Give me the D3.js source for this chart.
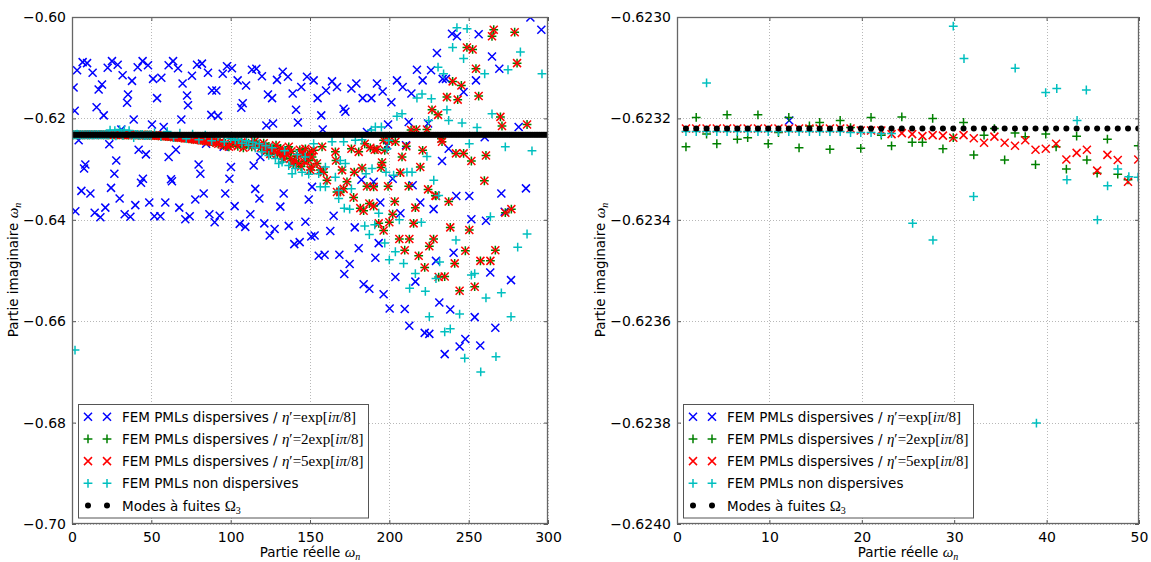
<!DOCTYPE html>
<html><head><meta charset="utf-8">
<script src="https://cdn.jsdelivr.net/npm/d3@7"></script>
<style>
body{margin:0;background:#fff}
svg text{font-family:"DejaVu Sans",sans-serif;fill:#000}
</style>
</head><body>
<svg id="c" width="1151" height="562"></svg>
<script>
// ---------------- DATA ----------------
const xTicksLeft = [0, 50, 100, 150, 200, 250, 300];
const yTicksLeft = [-0.70, -0.68, -0.66, -0.64, -0.62, -0.60];
const xTicksRight = [0, 10, 20, 30, 40, 50];
const yTicksRight = [-0.6240, -0.6238, -0.6236, -0.6234, -0.6232, -0.6230];

// Leaky modes Omega_3 (real parts), imaginary part constant
const leakyRe = [
0.97,2.08,3.2,4.31,5.42,6.53,7.65,8.76,9.87,10.98,
12.1,13.21,14.33,15.44,16.55,17.66,18.78,19.89,21.0,22.11,
23.22,24.33,25.45,26.56,27.67,28.78,29.9,31.01,32.12,33.23,
34.35,35.46,36.58,37.69,38.8,39.91,41.03,42.14,43.25,44.36,
45.47,46.58,47.7,48.81,49.92,51.03,52.15,53.26,54.37,55.48,
56.6,57.71,58.83,59.94,61.05,62.16,63.28,64.39,65.5,66.61,
67.73,68.84,69.96,71.07,72.18,73.29,74.41,75.52,76.63,77.74,
78.85,79.96,81.08,82.19,83.3,84.41,85.53,86.64,87.75,88.86,
89.98,91.09,92.21,93.32,94.43,95.54,96.66,97.77,98.88,99.99,
101.1,102.21,103.33,104.44,105.55,106.66,107.78,108.89,110.0,111.11,
112.23,113.34,114.46,115.57,116.68,117.79,118.91,120.02,121.13,122.24,
123.36,124.47,125.59,126.7,127.81,128.92,130.04,131.15,132.26,133.37,
134.48,135.59,136.71,137.82,138.93,140.04,141.16,142.27,143.38,144.49,
145.61,146.72,147.84,148.95,150.06,151.17,152.29,153.4,154.51,155.62,
156.73,157.84,158.96,160.07,161.18,162.29,163.41,164.52,165.63,166.74,
167.86,168.97,170.09,171.2,172.31,173.42,174.54,175.65,176.76,177.87,
178.99,180.1,181.22,182.33,183.44,184.55,185.67,186.78,187.89,189.0,
190.11,191.22,192.34,193.45,194.56,195.67,196.79,197.9,199.01,200.12,
201.24,202.35,203.47,204.58,205.69,206.8,207.92,209.03,210.14,211.25,
212.36,213.47,214.59,215.7,216.81,217.92,219.04,220.15,221.26,222.37,
223.49,224.6,225.72,226.83,227.94,229.05,230.17,231.28,232.39,233.5,
234.62,235.73,236.85,237.96,239.07,240.18,241.3,242.41,243.52,244.63,
245.74,246.85,247.97,249.08,250.19,251.3,252.42,253.53,254.64,255.75,
256.87,257.98,259.1,260.21,261.32,262.43,263.55,264.66,265.77,266.88,
267.99,269.1,270.22,271.33,272.44,273.55,274.67,275.78,276.89,278.0,
279.12,280.23,281.35,282.46,283.57,284.68,285.8,286.91,288.02,289.13,
290.25,291.36,292.48,293.59,294.7,295.81,296.93,298.04,299.15];
const leakyIm = -0.62322;

// eta' = 2 exp(i pi/8): imaginary parts for the first 45 leaky real parts
const etaTwoNearIm = [
-0.623256,-0.623198,-0.623231,-0.623250,-0.623193,-0.623241,-0.623238,-0.623193,-0.623250,-0.623228,
-0.623198,-0.623258,-0.623215,-0.623208,-0.623261,-0.623204,-0.623218,-0.623259,-0.623198,-0.623233,
-0.623254,-0.623197,-0.623247,-0.623247,-0.623200,-0.623260,-0.623238,-0.623208,-0.623272,-0.623233,
-0.623220,-0.623282,-0.623229,-0.623236,-0.623291,-0.623231,-0.623256,-0.623300,-0.623235,-0.623282,
-0.623308,-0.623241,-0.623310,-0.623321,-0.623254];

// eta' = 5 exp(i pi/8): imaginary parts for the first 45 leaky real parts
const etaFiveNearIm = [
-0.62322,-0.62322,-0.62322,-0.62322,-0.62322,-0.62322,-0.62322,-0.62322,-0.62322,-0.62322,
-0.62322,-0.62322,-0.62322,-0.62322,-0.62322,-0.62322,-0.62322,-0.623224,-0.623224,-0.623224,
-0.623231,-0.623229,-0.623231,-0.623235,-0.623233,-0.623234,-0.623238,-0.623233,-0.623239,-0.623248,
-0.623236,-0.623248,-0.623254,-0.623243,-0.623262,-0.623260,-0.623250,-0.623281,-0.623268,-0.623262,
-0.623303,-0.623272,-0.623282,-0.623325,-0.623281];

// points where eta'=2 and eta'=5 coincide (x >= 50)
const etaFarPoints = [
[51.03,-0.62333],[52.15,-0.62338],[53.26,-0.62335],[54.37,-0.62342],[55.48,-0.6234],[56.6,-0.62348],[57.71,-0.62345],
[58.83,-0.62353],[59.94,-0.6235],[61.05,-0.62358],[62.16,-0.62362],[63.28,-0.62357],[64.39,-0.62368],[65.5,-0.62372],
[66.61,-0.62366],[67.73,-0.62378],[68.84,-0.62383],[69.96,-0.62377],[71.07,-0.6239],[72.18,-0.62395],[73.29,-0.62388],
[74.41,-0.62402],[75.52,-0.62408],[76.63,-0.624],[77.74,-0.62415],[78.85,-0.6242],[79.96,-0.62412],[81.08,-0.62428],
[82.19,-0.62435],[83.3,-0.62425],[84.41,-0.62443],[85.53,-0.6245],[86.64,-0.6244],[87.75,-0.6246],[88.86,-0.6247],
[89.98,-0.6245],[91.09,-0.6248],[92.21,-0.625],[93.32,-0.6247],[94.43,-0.6251],[95.54,-0.6253],[96.66,-0.6249],
[97.77,-0.6254],[98.88,-0.6256],[99.99,-0.6252],
[111.3,-0.6249],[115.1,-0.6245],[117.6,-0.6253],[120.8,-0.6249],[122.9,-0.6263],[125.0,-0.627],[127.1,-0.626],
[128.6,-0.6253],[130.7,-0.6266],[132.4,-0.6273],[134.5,-0.6263],[136.6,-0.6256],[137.6,-0.6279],[140.3,-0.6284],
[142.9,-0.6289],[145.0,-0.627],[147.1,-0.626],[149.2,-0.6283],[150.8,-0.6296],[104.5,-0.6255],[108.0,-0.6258],
[101.1,-0.6246],[103.3,-0.625],[106.7,-0.6247],[109.9,-0.6252],[113.3,-0.6256],[116.2,-0.625],[119.0,-0.6258],
[121.6,-0.6262],[124.1,-0.6255],[126.3,-0.6266],[129.4,-0.627],[131.5,-0.6259],[133.2,-0.628],[135.4,-0.627],
[138.3,-0.6265],[139.4,-0.629],[141.5,-0.6275],[143.6,-0.6262],[144.4,-0.6295],[146.3,-0.6285],[148.4,-0.6272],
[150.3,-0.6302],[151.1,-0.6265],
[265.8,-0.6025],[264.7,-0.6038],[279.0,-0.603],[248.9,-0.606],[252.5,-0.6064],[254.6,-0.6102],[280.5,-0.6091],
[239.9,-0.6127],[245.4,-0.6135],[236.3,-0.6158],[243.1,-0.6163],[256.3,-0.6156],[226.9,-0.6183],[230.7,-0.6193],
[270.0,-0.6197],[271.0,-0.6215],[286.8,-0.6212],[217.0,-0.6222],[223.7,-0.6222],[233.2,-0.6246],[232.8,-0.624],
[242.0,-0.6269],[246.8,-0.6269],[251.7,-0.6284],[260.9,-0.6273],[221.0,-0.6263],[208.0,-0.6276],[210.7,-0.6255],
[203.8,-0.6246],[200.0,-0.6244],[192.2,-0.6261],[195.4,-0.6287],[194.8,-0.6297],[206.9,-0.6307],[219.5,-0.6296],
[212.2,-0.6334],[224.4,-0.634],[229.0,-0.6352],[199.2,-0.6334],[185.9,-0.6334],[190.1,-0.6335],[177.9,-0.6306],
[182.8,-0.6298],[170.2,-0.6302],[173.3,-0.6325],[171.2,-0.6339],[167.0,-0.6345],[160.7,-0.6322],[158.6,-0.6306],
[156.5,-0.6302],[154.4,-0.6289],[151.3,-0.6276],[166.4,-0.6283],[166.0,-0.6266],[176.1,-0.626],[180.7,-0.6266],
[188.0,-0.6258],[190.8,-0.6262],[197.1,-0.6263],[184.5,-0.625],[157.6,-0.6256],[152.3,-0.6263],[259.9,-0.6323],
[213.7,-0.6223],[196.4,-0.6243],
[169.1,-0.6345],[177.5,-0.6356],[181.7,-0.6377],[183.8,-0.6382],[187.4,-0.6368],[190.1,-0.6373],[193.3,-0.6407],
[196.4,-0.6421],[200.0,-0.6405],[202.1,-0.6389],[203.4,-0.6364],[206.3,-0.6438],[209.7,-0.646],[212.6,-0.6438],
[215.3,-0.6407],[216.4,-0.6376],[218.5,-0.6471],[222.3,-0.6494],[225.2,-0.6452],[227.9,-0.6438],[231.1,-0.6513],
[234.9,-0.6512],[229.4,-0.6353],[237.4,-0.6364],[238.4,-0.6415],[241.2,-0.6486],[244.3,-0.654],[247.9,-0.6461],
[250.4,-0.642],[253.8,-0.6532],[257.4,-0.6481],[263.7,-0.6481],[266.8,-0.646],[273.1,-0.6386],[276.9,-0.6379]];

// eta' = exp(i pi/8)
const etaOnePoints = [
[3.2,-0.6105],[6.7,-0.6089],[9.5,-0.6091],[13.0,-0.611],[1.0,-0.6139],[16.8,-0.6143],[18.9,-0.6133],[15.5,-0.6178],
[20.0,-0.6194],[1.7,-0.6185],[22.5,-0.61],[25.2,-0.6087],[28.8,-0.6094],[31.9,-0.6115],[37.8,-0.6126],[35.3,-0.6153],
[34.7,-0.6169],[38.9,-0.6202],[41.4,-0.6099],[44.5,-0.6087],[47.9,-0.6095],[51.1,-0.6122],[56.3,-0.612],[53.6,-0.616],
[50.4,-0.6212],[57.8,-0.6217],[60.9,-0.6095],[63.7,-0.6087],[66.8,-0.6101],[69.7,-0.6131],[72.5,-0.6155],[73.1,-0.6174],
[68.9,-0.6202],[75.6,-0.6116],[78.8,-0.6094],[81.9,-0.6092],[85.7,-0.611],[88.2,-0.6145],[91.0,-0.6145],[87.8,-0.6193],
[92.0,-0.6195],[95.0,-0.6112],[97.7,-0.6097],[100.8,-0.6101],[104.4,-0.6125],[109.7,-0.6135],[107.6,-0.617],[106.7,-0.6179],
[113.4,-0.6104],[116.2,-0.6102],[119.7,-0.6117],[123.5,-0.6153],[126.1,-0.616],[129.2,-0.6124],[132.8,-0.6108],[136.1,-0.6118],
[139.1,-0.6151],[144.5,-0.6138],[148.1,-0.6118],[141.2,-0.6183],[142.4,-0.6208],[122.5,-0.6214],[126.7,-0.621],[31.1,-0.6222],
[4.2,-0.6243],[23.5,-0.6251],[27.9,-0.6283],[42.0,-0.6262],[46.6,-0.6271],[60.9,-0.6276],[65.5,-0.6262],[79.8,-0.6291],
[80.9,-0.6309],[84.5,-0.625],[95.6,-0.6256],[100.2,-0.6296],[99.2,-0.6319],[114.5,-0.6293],[118.7,-0.6276],[8.4,-0.6291],
[7.6,-0.6299],[26.7,-0.6309],[24.6,-0.6337],[44.7,-0.6319],[43.5,-0.6327],[62.4,-0.632],[63.0,-0.6324],[5.9,-0.6343],
[11.6,-0.6348],[83.0,-0.6348],[96.6,-0.6348],[115.5,-0.6339],[133.4,-0.6348],
[2.1,-0.6383],[14.3,-0.6386],[17.9,-0.6395],[21.0,-0.6376],[30.0,-0.6358],[33.2,-0.6389],[36.8,-0.6394],[39.9,-0.6371],
[48.7,-0.6366],[51.9,-0.6393],[55.7,-0.6393],[58.8,-0.6366],[67.6,-0.6376],[71.4,-0.6399],[74.2,-0.6393],[77.7,-0.636],
[86.6,-0.6389],[89.9,-0.6405],[93.1,-0.6392],[102.5,-0.6373],[105.7,-0.6408],[109.2,-0.6414],[112.4,-0.6389],[118.1,-0.6358],
[121.2,-0.6407],[124.6,-0.6431],[127.7,-0.6418],[131.3,-0.6374],[136.6,-0.6412],[140.1,-0.6448],[143.5,-0.6444],[147.1,-0.6404],
[149.2,-0.636],[150.8,-0.6433],
[152.3,-0.6125],[154.8,-0.616],[160.1,-0.6145],[163.9,-0.6127],[167.0,-0.6138],[176.1,-0.6141],[179.2,-0.6131],[183.2,-0.616],
[188.7,-0.616],[192.2,-0.6131],[195.8,-0.6147],[201.3,-0.6168],[204.8,-0.6125],[208.4,-0.6138],[213.9,-0.6151],[217.4,-0.6104],
[221.0,-0.6125],[226.3,-0.6105],[230.0,-0.6071],[233.6,-0.6122],[235.7,-0.6122],[239.5,-0.6033],[242.6,-0.6038],
[246.8,-0.6148],[254.6,-0.6125],[256.3,-0.6034],[264.7,-0.6078],[269.3,-0.6102],[288.9,-0.6001],[295.8,-0.6025],
[157.1,-0.6194],[171.2,-0.6181],[172.3,-0.6187],[158.0,-0.6222],[185.9,-0.6227],[199.2,-0.6212],[212.2,-0.6207],[224.4,-0.621],
[281.5,-0.6217],[198.5,-0.6253],[210.5,-0.6253],[233.2,-0.6284],[237.4,-0.626],[260.1,-0.6237],[182.4,-0.6321],[190.1,-0.6325],
[202.1,-0.6319],[214.7,-0.6332],[286.1,-0.6338],[151.3,-0.6335],
[152.9,-0.6431],[155.5,-0.6471],[159.2,-0.6469],[162.8,-0.6422],[164.9,-0.6392],[168.5,-0.6469],[171.6,-0.6507],[175.0,-0.6487],
[178.2,-0.6415],[180.7,-0.6456],[183.8,-0.6527],[187.4,-0.6536],[191.2,-0.6475],[193.3,-0.6446],[194.3,-0.6366],[196.4,-0.6547],
[200.2,-0.6575],[203.8,-0.6513],[207.0,-0.6387],[209.7,-0.6576],[212.6,-0.6609],[216.4,-0.6522],[219.5,-0.6366],[222.3,-0.6623],
[225.2,-0.6625],[227.9,-0.6379],[229.4,-0.6481],[231.5,-0.6563],[234.9,-0.6665],[238.4,-0.6577],[240.5,-0.6465],[242.2,-0.6353],
[244.3,-0.665],[247.9,-0.6635],[250.4,-0.6353],[251.7,-0.6399],[253.8,-0.6592],[257.3,-0.6648],[260.9,-0.6402],[263.6,-0.6504],
[266.8,-0.6613],[270.6,-0.6348],[276.7,-0.6519],[272.7,-0.6384],
[12.15,-0.623204]];

// non-dispersive PMLs
const nonDispPoints = [
[0.97,-0.623226],[2.08,-0.623226],[3.2,-0.623226],[4.31,-0.623226],[5.42,-0.623226],[6.53,-0.623226],[7.65,-0.623226],
[8.76,-0.623226],[9.87,-0.623226],[10.98,-0.623226],[12.1,-0.623226],[13.21,-0.623226],[14.33,-0.623226],[15.44,-0.623226],
[16.55,-0.623226],[17.66,-0.623226],[18.78,-0.623228],[19.89,-0.623228],[21.0,-0.623228],[22.11,-0.62323],[23.22,-0.62323],
[3.2,-0.62313],[29.9,-0.623018],[31.06,-0.623082],[36.6,-0.623101],[39.9,-0.623149],[41.1,-0.623141],[44.3,-0.623144],
[43.3,-0.623204],[42.2,-0.623321],[47.7,-0.6233],[48.9,-0.623315],[46.6,-0.623333],[49.9,-0.623316],[32.1,-0.623354],
[25.5,-0.623407],[27.7,-0.62344],[45.5,-0.6234],[38.9,-0.623801],
[24,-0.6223],[27,-0.6224],[30,-0.6222],[33,-0.6223],[36,-0.6224],[1.9,-0.6657],
[52,-0.6228],[56,-0.6236],[60,-0.6226],[64,-0.6238],[68,-0.6229],[72,-0.624],[76,-0.6231],[80,-0.6242],[84,-0.6233],
[88,-0.6244],[92,-0.6236],[96,-0.6246],[100,-0.624],
[102.9,-0.6243],[107.1,-0.6249],[111.3,-0.6253],[115.5,-0.6258],[119.7,-0.6266],[124.0,-0.6273],[128.2,-0.6279],
[132.4,-0.6286],[136.6,-0.6293],[140.8,-0.6299],[145.0,-0.6306],[149.2,-0.631],[130.3,-0.6289],[138.7,-0.6309],
[105.0,-0.6241],[110.0,-0.6244],[114.0,-0.6247],[118.0,-0.625],[122.0,-0.6254],[126.0,-0.6258],[134.0,-0.6264],
[142.0,-0.6271],[147.0,-0.6276],
[242.6,-0.6021],[249.0,-0.6023],[239.9,-0.606],[246.8,-0.6082],[282.6,-0.6069],[274.8,-0.6104],[260.1,-0.6112],[296.2,-0.6112],
[230.7,-0.6099],[234.2,-0.6112],[220.6,-0.6152],[217.4,-0.616],[226.5,-0.6161],[236.3,-0.6183],[204.8,-0.6196],[208.0,-0.6191],
[224.8,-0.6204],[237.4,-0.6204],[245.8,-0.6209],[264.7,-0.6191],[255.3,-0.6218],[195.0,-0.6217],[191.2,-0.6217],[188.7,-0.6223],
[199.6,-0.6243],[250.4,-0.625],[273.1,-0.6256],[289.9,-0.6264],[223.7,-0.6275],[214.3,-0.6306],[211.1,-0.6306],[228.0,-0.6322],
[231.1,-0.6352],[202.7,-0.6312],[197.9,-0.6306],[198.5,-0.626],[189.1,-0.6299],[185.3,-0.6309],[172.3,-0.6289],[169.1,-0.6283],
[159.7,-0.6296],[155.5,-0.6309],[159.7,-0.6335],[156.5,-0.6335],[166.0,-0.6316],[168.1,-0.6342],[176.1,-0.6339],[152.3,-0.625],
[163.9,-0.6246],[171.2,-0.6246],[178.6,-0.6243],[182.8,-0.6242],
[168.1,-0.6358],[171.6,-0.6377],[175.0,-0.6379],[193.3,-0.6387],[206.3,-0.64],[184.5,-0.6412],[190.8,-0.641],[187.4,-0.6429],
[197.1,-0.6446],[203.8,-0.6463],[200.0,-0.6479],[209.0,-0.6486],[216.4,-0.6506],[212.8,-0.6535],[222.7,-0.6541],[220.2,-0.6405],
[231.7,-0.6483],[229.4,-0.6516],[242.0,-0.644],[244.3,-0.6586],[251.7,-0.6509],[253.8,-0.6506],[225.2,-0.6591],[234.9,-0.6621],
[238.4,-0.6615],[260.9,-0.6554],[270.6,-0.6544],[276.7,-0.6591],[280.9,-0.6454],[286.8,-0.6428],[263.7,-0.6394],[267.2,-0.667],
[247.5,-0.6673],[257.6,-0.67]];

const legendLabels = [
  [{t:"FEM PMLs dispersives / "},{t:"η",m:"i"},{t:"′=",m:"r"},{t:"exp[",m:"r"},{t:"iπ",m:"i"},{t:"/8]",m:"r"}],
  [{t:"FEM PMLs dispersives / "},{t:"η",m:"i"},{t:"′=",m:"r"},{t:"2exp[",m:"r"},{t:"iπ",m:"i"},{t:"/8]",m:"r"}],
  [{t:"FEM PMLs dispersives / "},{t:"η",m:"i"},{t:"′=",m:"r"},{t:"5exp[",m:"r"},{t:"iπ",m:"i"},{t:"/8]",m:"r"}],
  [{t:"FEM PMLs non dispersives"}],
  [{t:"Modes à fuites "},{t:"Ω",m:"r"},{t:"3",m:"sub"}]
];

// ---------------- BUILD SERIES ----------------
const nNear = etaTwoNearIm.length;
const seriesEtaTwo = leakyRe.slice(0, nNear).map((r, i) => [r, etaTwoNearIm[i]]).concat(etaFarPoints);
const seriesEtaFive = leakyRe.slice(0, nNear).map((r, i) => [r, etaFiveNearIm[i]]).concat(etaFarPoints);
const seriesLeaky = leakyRe.map(r => [r, leakyIm]);

const series = [
  {data: etaOnePoints, color: "#0000ff", shape: "x"},
  {data: seriesEtaTwo, color: "#008000", shape: "+"},
  {data: seriesEtaFive, color: "#ff0000", shape: "x"},
  {data: nonDispPoints, color: "#00bfbf", shape: "+"},
  {data: seriesLeaky, color: "#000000", shape: "o"}
];

const svg = d3.select("#c");
const mathFont = "'Liberation Serif','DejaVu Serif',serif";

function markerPath(shape) {
  const s = 4, p = 4.4;
  if (shape === "x") return `M${-s},${-s}L${s},${s}M${-s},${s}L${s},${-s}`;
  return `M${-p},0L${p},0M0,${-p}L0,${p}`;
}

function drawMarker(sel, shape, color) {
  if (shape === "o") {
    sel.append("circle").attr("r", 3).attr("fill", color);
  } else {
    sel.append("path").attr("d", markerPath(shape)).attr("stroke", color)
      .attr("stroke-width", 1.5).attr("fill", "none");
  }
}

const panels = [
  {id: "L", x0: 72, x1: 548, y0: 17, y1: 524, xDom: [0, 300], yDom: [-0.70, -0.60],
   xt: xTicksLeft, yt: yTicksLeft, yfmt: d3.format(".2f"), ylabX: 18, legX: 78},
  {id: "R", x0: 677, x1: 1139, y0: 17, y1: 524, xDom: [0, 50], yDom: [-0.6240, -0.6230],
   xt: xTicksRight, yt: yTicksRight, yfmt: d3.format(".4f"), ylabX: 605, legX: 683}
];

panels.forEach(p => {
  const x = d3.scaleLinear().domain(p.xDom).range([p.x0, p.x1]);
  const y = d3.scaleLinear().domain(p.yDom).range([p.y1, p.y0]);
  const w = p.x1 - p.x0, h = p.y1 - p.y0;

  svg.append("clipPath").attr("id", "clip" + p.id).append("rect")
    .attr("x", p.x0).attr("y", p.y0).attr("width", w).attr("height", h);

  // grid
  const grid = svg.append("g").attr("stroke", "#b8b8b8").attr("stroke-width", 1)
    .attr("stroke-dasharray", "1,2").attr("shape-rendering", "crispEdges");
  p.xt.forEach(t => grid.append("line").attr("x1", Math.round(x(t)) + 0.5).attr("x2", Math.round(x(t)) + 0.5)
    .attr("y1", p.y0).attr("y2", p.y1));
  p.yt.forEach(t => grid.append("line").attr("y1", Math.round(y(t)) + 0.5).attr("y2", Math.round(y(t)) + 0.5)
    .attr("x1", p.x0).attr("x2", p.x1));

  // data
  const plot = svg.append("g").attr("clip-path", `url(#clip${p.id})`);
  series.forEach(s => {
    const g = plot.append("g");
    s.data.forEach(d => {
      const m = g.append("g").attr("transform", `translate(${x(d[0])},${y(d[1])})`);
      drawMarker(m, s.shape, s.color);
    });
  });

  // axes
  const axB = d3.axisBottom(x).tickValues(p.xt).tickSizeInner(-4).tickSizeOuter(0).tickPadding(8).tickFormat(d3.format("d"));
  const axT = d3.axisTop(x).tickValues(p.xt).tickSizeInner(-4).tickSizeOuter(0).tickFormat("");
  const axL = d3.axisLeft(y).tickValues(p.yt).tickSizeInner(-4).tickSizeOuter(0).tickPadding(6).tickFormat(p.yfmt);
  const axR = d3.axisRight(y).tickValues(p.yt).tickSizeInner(-4).tickSizeOuter(0).tickFormat("");
  [[axB, `translate(0,${p.y1})`], [axT, `translate(0,${p.y0})`], [axL, `translate(${p.x0},0)`], [axR, `translate(${p.x1},0)`]]
    .forEach(([ax, tr]) => {
      const g = svg.append("g").attr("transform", tr).call(ax);
      g.select(".domain").remove();
      g.selectAll("line").attr("stroke", "#555");
      g.selectAll("text").attr("font-size", 14).attr("font-family", "DejaVu Sans");
    });

  // frame
  svg.append("rect").attr("x", p.x0 + 0.5).attr("y", p.y0 + 0.5).attr("width", w - 1).attr("height", h - 1)
    .attr("fill", "none").attr("stroke", "#666").attr("stroke-width", 1.3);

  // axis labels
  const xl = svg.append("text").attr("x", (p.x0 + p.x1) / 2).attr("y", 557).attr("text-anchor", "middle").attr("font-size", 13.5);
  xl.append("tspan").text("Partie réelle ");
  xl.append("tspan").text("ω").attr("font-family", mathFont).attr("font-style", "italic").attr("font-size", 15);
  xl.append("tspan").text("n").attr("font-family", mathFont).attr("font-style", "italic").attr("font-size", 10).attr("dy", 3);

  const yl = svg.append("text").attr("transform", `translate(${p.ylabX},270) rotate(-90)`)
    .attr("text-anchor", "middle").attr("font-size", 13.5);
  yl.append("tspan").text("Partie imaginaire ");
  yl.append("tspan").text("ω").attr("font-family", mathFont).attr("font-style", "italic").attr("font-size", 15);
  yl.append("tspan").text("n").attr("font-family", mathFont).attr("font-style", "italic").attr("font-size", 10).attr("dy", 3);

  // legend
  const lg = svg.append("g");
  lg.append("rect").attr("x", p.legX + 0.5).attr("y", 404.5).attr("width", 290).attr("height", 113.5)
    .attr("fill", "#fff").attr("stroke", "#555").attr("stroke-width", 1);
  series.forEach((s, i) => {
    const cy = 416.7 + i * 22.2;
    [10, 29].forEach(dx => {
      const m = lg.append("g").attr("transform", `translate(${p.legX + dx},${cy})`);
      drawMarker(m, s.shape, s.color);
    });
    const t = lg.append("text").attr("x", p.legX + 44).attr("y", cy + 5).attr("font-size", 13.5);
    legendLabels[i].forEach(seg => {
      const ts = t.append("tspan").text(seg.t);
      if (seg.m) {
        ts.attr("font-family", mathFont).attr("font-size", 15);
        if (seg.m === "i") ts.attr("font-style", "italic");
        if (seg.m === "sub") ts.attr("font-size", 10).attr("dy", 3);
      }
    });
  });
});
</script>
</body></html>
